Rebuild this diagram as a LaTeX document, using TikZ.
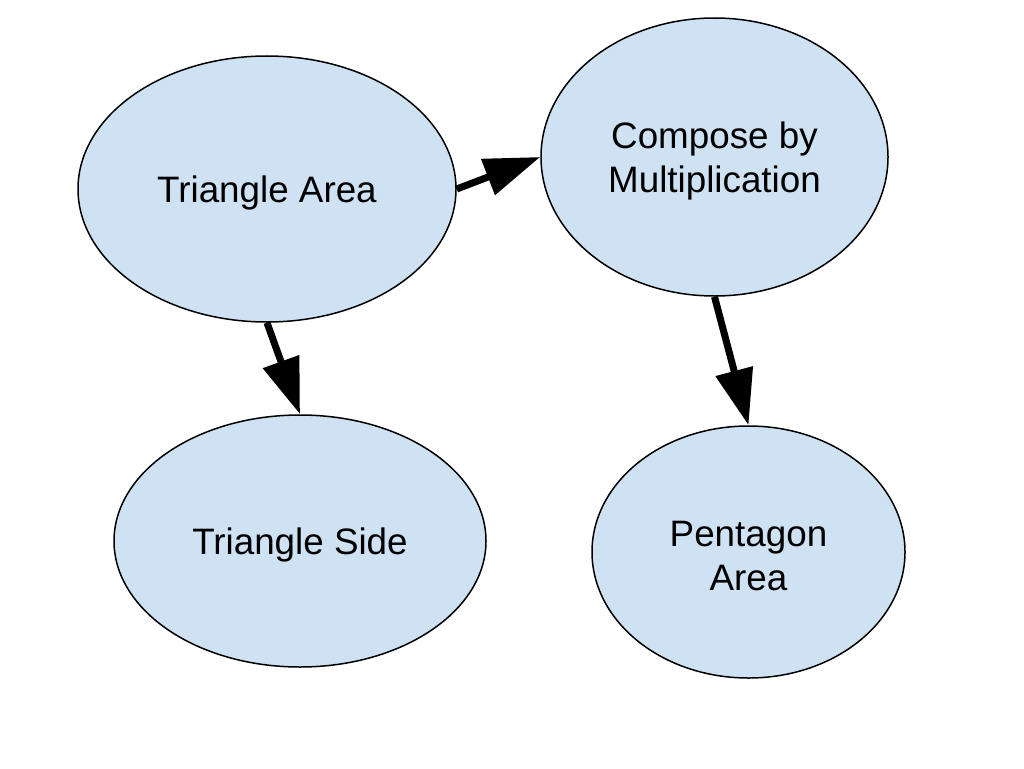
\documentclass[tikz,border=0pt]{standalone}
\usepackage{fontspec}
\setmainfont{Liberation Sans}
\usetikzlibrary{shapes.geometric,arrows.meta}
\definecolor{nodefill}{HTML}{CFE2F3}
\begin{document}
\begin{tikzpicture}[x=1pt,y=-1pt,
  bubble/.style={ellipse,draw=black,line width=1.5pt,fill=nodefill,inner sep=0pt},
  txt/.style={align=center,inner sep=0pt,yshift=-4pt,font=\fontsize{36.8}{44}\selectfont},
  link/.style={line width=7pt,-{Triangle[length=56pt,width=37pt]}}]
\useasboundingbox (0,0) rectangle (1024,768);
\node[bubble,minimum width=378pt,minimum height=266pt,label={[txt]center:Triangle Area}] (ta) at (267,189) {};
\node[bubble,minimum width=347pt,minimum height=278pt,label={[txt]center:{Compose by\\Multiplication}}] (cm) at (714.5,157) {};
\node[bubble,minimum width=372pt,minimum height=252pt,label={[txt]center:Triangle Side}] (ts) at (300,541) {};
\node[bubble,minimum width=313pt,minimum height=252pt,label={[txt]center:{Pentagon\\Area}}] (pa) at (748.5,552) {};
\draw[link] (ta.east) -- (cm.west);
\draw[link] (ta.south) -- (ts.north);
\draw[link] (cm.south) -- (pa.north);
\end{tikzpicture}
\end{document}
